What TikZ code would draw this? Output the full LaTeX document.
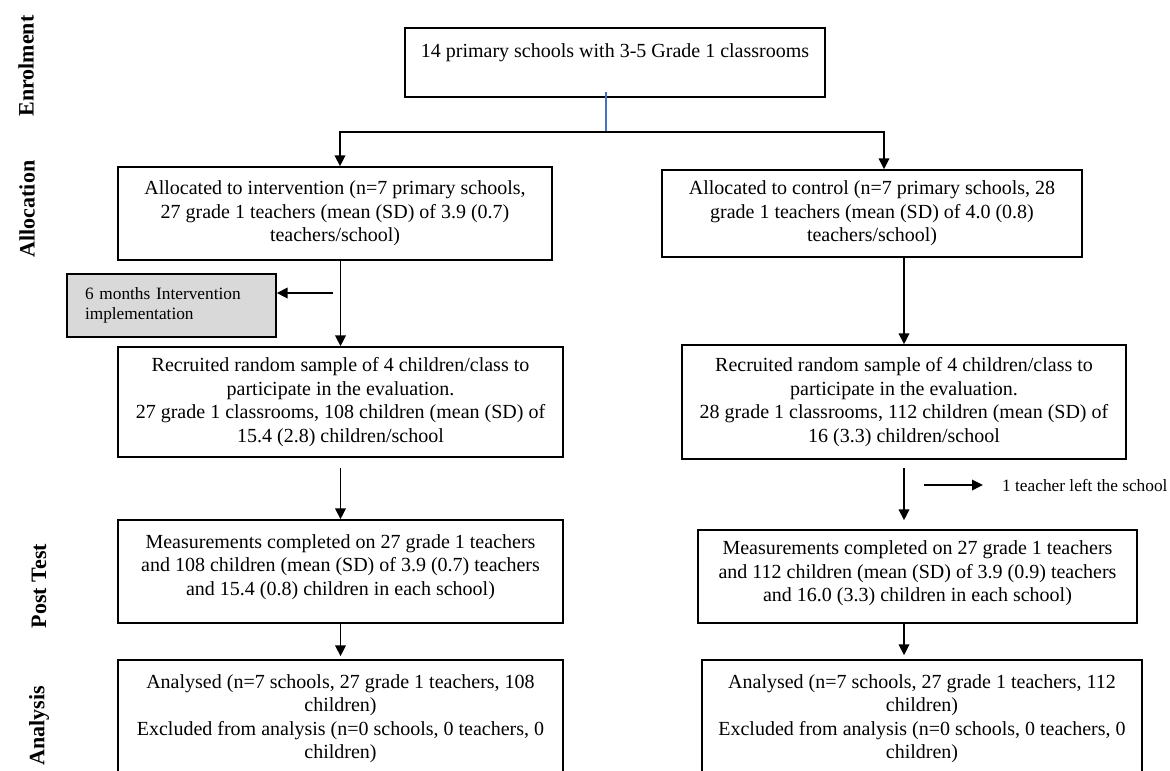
\documentclass[tikz,border=0pt]{standalone}
\usepackage{fontspec}
\setmainfont{Liberation Serif}
\usetikzlibrary{arrows.meta}
\definecolor{lineblue}{RGB}{68,114,196}
\definecolor{boxgray}{RGB}{217,217,217}
\begin{document}
\begin{tikzpicture}[x=1pt,y=-1pt,
  box/.style={draw=black, line width=1.4pt, inner sep=0pt, align=center, font=\fontsize{20}{23.5}\selectfont},
  txt/.style={align=center, inner sep=0pt, font=\fontsize{20}{23.5}\selectfont},
  small/.style={inner sep=0pt, font=\fontsize{17.3}{20}\selectfont},
  arr/.style={line width=1.8pt, -{Triangle[length=11pt,width=10.5pt]}},
  phase/.style={rotate=90, font=\bfseries\fontsize{22}{26}\selectfont, inner sep=0pt}]
\useasboundingbox (0,0) rectangle (1170,771);
\clip (0,0) rectangle (1170,771);

% phase labels
\node[phase] (enr) at (26,66) {Enrolment};
\node[phase] (alo) at (27,209) {Allocation};
\node[phase] (pt) at (39,586) {Post Test};
\node[phase] (ana) at (39,726) {Analysis};

% boxes
\node[box, minimum width=420pt, minimum height=69pt] (top) at (615,62.5) {};
\node[txt] (topt) at (615,53) {14 primary schools with 3-5 Grade 1 classrooms};

\node[box, minimum width=434pt, minimum height=93pt] (A1) at (335,213.5)
 {Allocated to intervention (n=7 primary schools,\\ 27 grade 1 teachers (mean (SD) of 3.9 (0.7)\\ teachers/school)};
\node[box, minimum width=420pt, minimum height=87pt] (A2) at (872,213.5)
 {Allocated to control (n=7 primary schools, 28\\ grade 1 teachers (mean (SD) of 4.0 (0.8)\\ teachers/school)};

\node[box, small, fill=boxgray, inner xsep=18pt, text width=173pt, minimum height=63pt, align=left] (G) at (171.5,305.5)
 {6 months Intervention\\ implementation};

\node[box, minimum width=445pt, minimum height=110pt] (R1) at (340.5,402)
 {Recruited random sample of 4 children/class to\\ participate in the evaluation.\\ 27 grade 1 classrooms, 108 children (mean (SD) of\\ 15.4 (2.8) children/school};
\node[box, minimum width=444pt, minimum height=114pt] (R2) at (904,402)
 {Recruited random sample of 4 children/class to\\ participate in the evaluation.\\ 28 grade 1 classrooms, 112 children (mean (SD) of\\ 16 (3.3) children/school};

\node[box, minimum width=445pt, minimum height=103pt] (P1) at (340.5,571.5) {};
\node[txt] (P1t) at (340.5,567)
 {Measurements completed on 27 grade 1 teachers\\ and 108 children (mean (SD) of 3.9 (0.7) teachers\\ and 15.4 (0.8) children in each school)};
\node[box, minimum width=439pt, minimum height=93pt] (P2) at (917.5,576.5) {};
\node[txt] (P2t) at (917.5,573.5)
 {Measurements completed on 27 grade 1 teachers\\ and 112 children (mean (SD) of 3.9 (0.9) teachers\\ and 16.0 (3.3) children in each school)};

\node[box, minimum width=445pt, minimum height=115pt] (AL) at (340.5,717.5) {};
\node[txt] (ALt) at (340.5,718.5)
 {Analysed (n=7 schools, 27 grade 1 teachers, 108\\ children)\\ Excluded from analysis (n=0 schools, 0 teachers, 0\\ children)};
\node[box, minimum width=440pt, minimum height=115pt] (AR) at (922,717.5) {};
\node[txt] (ARt) at (922,718.5)
 {Analysed (n=7 schools, 27 grade 1 teachers, 112\\ children)\\ Excluded from analysis (n=0 schools, 0 teachers, 0\\ children)};

\node[small, anchor=west] (left) at (1002,485) {1 teacher left the school};

% connectors
\coordinate (split) at (606,132);
\coordinate (L) at (340,132);
\coordinate (R) at (884,132);
\coordinate (gs) at (333,293);
\coordinate (ss) at (924,485);

\draw[line width=1.2pt, lineblue] ([yshift=6pt]split |- top.south) -- (split);
\draw[arr] (split) -- (L) -- (L |- A1.north);
\draw[arr] (split) -- (R) -- (R |- A2.north);
\draw[arr] (R1.north |- A1.south) -- (R1.north);
\draw[arr] (gs) -- (gs -| G.east);
\draw[arr] ([yshift=-10pt]R1.south) -- (R1.south |- P1.north);
\draw[arr, shorten >=3pt] (P1.south) -- (AL.north);
\draw[arr] (A2.south -| R2.north) -- (R2.north);
\draw[arr, shorten >=9pt] ([yshift=-8pt]R2.south) -- (R2.south |- P2.north);
\draw[arr, shorten >=4pt] (R2.south |- P2.south) -- (R2.south |- AR.north);
\draw[arr, shorten >=19pt] (ss) -- (ss -| left.west);
\end{tikzpicture}
\end{document}
